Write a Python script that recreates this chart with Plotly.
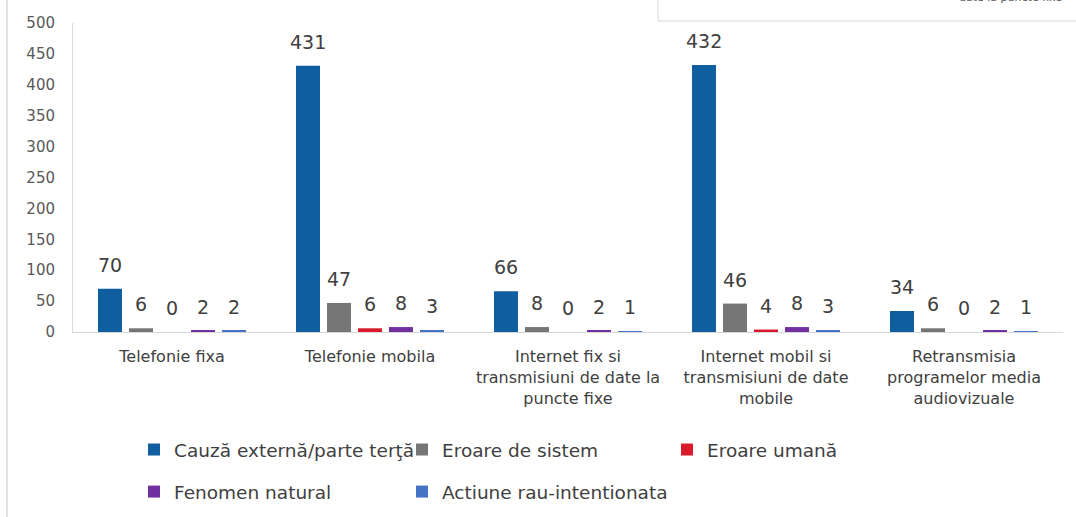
import plotly.graph_objects as go

categories = [
    "Telefonie fixa",
    "Telefonie mobila",
    "Internet fix si<br>transmisiuni de date la<br>puncte fixe",
    "Internet mobil si<br>transmisiuni de date<br>mobile",
    "Retransmisia<br>programelor media<br>audiovizuale",
]
series_names = [
    "Cauză externă/parte terţă",
    "Eroare de sistem",
    "Eroare umană",
    "Fenomen natural",
    "Actiune rau-intentionata",
]
cauza_externa = [70, 431, 66, 432, 34]
eroare_sistem = [6, 47, 8, 46, 6]
eroare_umana = [0, 6, 0, 4, 0]
fenomen_natural = [2, 8, 2, 8, 2]
actiune_rau = [2, 3, 1, 3, 1]
y_ticks = [0, 50, 100, 150, 200, 250, 300, 350, 400, 450, 500]

series_values = [cauza_externa, eroare_sistem, eroare_umana, fenomen_natural, actiune_rau]
colors = ["#0F5FA0", "#767676", "#D91A2A", "#7030A0", "#4472C4"]
legend_of = ["legend", "legend2", "legend3", "legend", "legend2"]

FONT = "DejaVu Sans"
BARGAP = 0.217
fig = go.Figure()

for i, (name, vals) in enumerate(zip(series_names, series_values)):
    fig.add_trace(go.Bar(
        x=categories, y=vals, name=name,
        marker=dict(color=colors[i], line=dict(width=0)),
        legend=legend_of[i], legendgroup=name,
        hoverinfo="skip",
    ))

fig.update_layout(
    width=1076, height=517,
    margin=dict(l=73, r=13, t=23, b=185, autoexpand=False),
    paper_bgcolor="white", plot_bgcolor="white",
    barmode="group", bargap=BARGAP, bargroupgap=0.226,
    font=dict(family=FONT, color="#404040"),
    showlegend=True,
)

# data labels above each bar (offset to the bar's slot inside its group)
plot_w = 1076 - 73 - 13
slot = plot_w / len(categories) * (1 - BARGAP) / len(series_names)
for i, vals in enumerate(series_values):
    for cat, v in zip(categories, vals):
        fig.add_annotation(
            x=cat, y=v, xref="x", yref="y", text=str(v), showarrow=False,
            xanchor="center", yanchor="middle",
            xshift=(i - (len(series_names) - 1) / 2) * slot, yshift=24,
            font=dict(family=FONT, size=19, color="#404040"),
        )

legend_common = dict(
    orientation="v", xanchor="left", yanchor="top",
    font=dict(family=FONT, size=18.5, color="#404040"),
    bgcolor="rgba(0,0,0,0)", borderwidth=0,
    tracegroupgap=15, itemclick=False, itemdoubleclick=False,
)
def px_x(px):
    return (px - 73) / 990
def px_y(py):
    return (332 - py) / 309

fig.update_layout(
    legend=dict(x=px_x(134), y=px_y(431), **legend_common),
    legend2=dict(x=px_x(402), y=px_y(431), **legend_common),
    legend3=dict(x=px_x(667), y=px_y(431), **legend_common),
)

fig.update_yaxes(
    range=[0, 500], tickvals=y_ticks, ticktext=[str(t) for t in y_ticks],
    showgrid=False, zeroline=False, automargin=False,
    showline=True, linecolor="#D9D9D9", linewidth=1,
    ticks="outside", ticklen=14, tickcolor="rgba(0,0,0,0)",
    tickfont=dict(family=FONT, size=15, color="#595959"),
)
fig.update_xaxes(
    showgrid=False, showline=True, linecolor="#D9D9D9", linewidth=1,
    automargin=False,
    ticks="outside", ticklen=10, tickcolor="rgba(0,0,0,0)",
    tickfont=dict(family=FONT, size=16, color="#404040"),
)

# frame artifacts from the source page
fig.add_shape(type="rect", xref="paper", yref="paper",
              x0=px_x(658), x1=px_x(1090), y0=px_y(21), y1=px_y(-10),
              line=dict(color="#D9D9D9", width=1), fillcolor="white", layer="above")
fig.add_shape(type="line", xref="paper", yref="paper",
              x0=px_x(7), x1=px_x(7), y0=px_y(530), y1=px_y(-10),
              line=dict(color="#D9D9D9", width=1.5))
fig.add_annotation(text="date la puncte fixe", xref="paper", yref="paper",
                   x=px_x(1064), y=px_y(6),
                   xanchor="right", yanchor="bottom", showarrow=False,
                   font=dict(family=FONT, size=11, color="#595959"))

fig.write_html("out.html", config={"displayModeBar": False},
               post_script="document.body.style.margin='0px';")
